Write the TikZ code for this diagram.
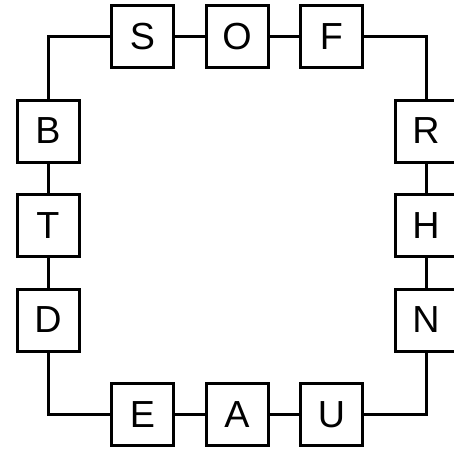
\documentclass[tikz,border=0pt]{standalone}
\usepackage{fontspec}
\setmainfont{Liberation Sans}
\begin{document}
\begin{tikzpicture}[x=1pt,y=-1pt,
  letterbox/.style={draw=black,line width=3pt,minimum size=62pt,inner sep=0pt,fill=white,
    font=\fontsize{37.7}{40}\selectfont},
  link/.style={draw=black,line width=3pt}]
\useasboundingbox (0,0) rectangle (453,453);
\node[letterbox] (S) at (142.5,36.5) {S};
\node[letterbox] (O) at (237,36.5) {O};
\node[letterbox] (F) at (331.5,36.5) {F};
\node[letterbox] (B) at (48,131) {B};
\node[letterbox] (T) at (48,225.5) {T};
\node[letterbox] (D) at (48,320) {D};
\node[letterbox] (R) at (426,131) {R};
\node[letterbox] (H) at (426,225.5) {H};
\node[letterbox] (N) at (426,320) {N};
\node[letterbox] (E) at (142.5,414.5) {E};
\node[letterbox] (A) at (237,414.5) {A};
\node[letterbox] (U) at (331.5,414.5) {U};
\draw[link] (S) -| (B);
\draw[link] (S) -- (O);
\draw[link] (O) -- (F);
\draw[link] (F) -| (R);
\draw[link] (R) -- (H);
\draw[link] (H) -- (N);
\draw[link] (N) |- (U);
\draw[link] (U) -- (A);
\draw[link] (A) -- (E);
\draw[link] (E) -| (D);
\draw[link] (D) -- (T);
\draw[link] (T) -- (B);
\end{tikzpicture}
\end{document}
